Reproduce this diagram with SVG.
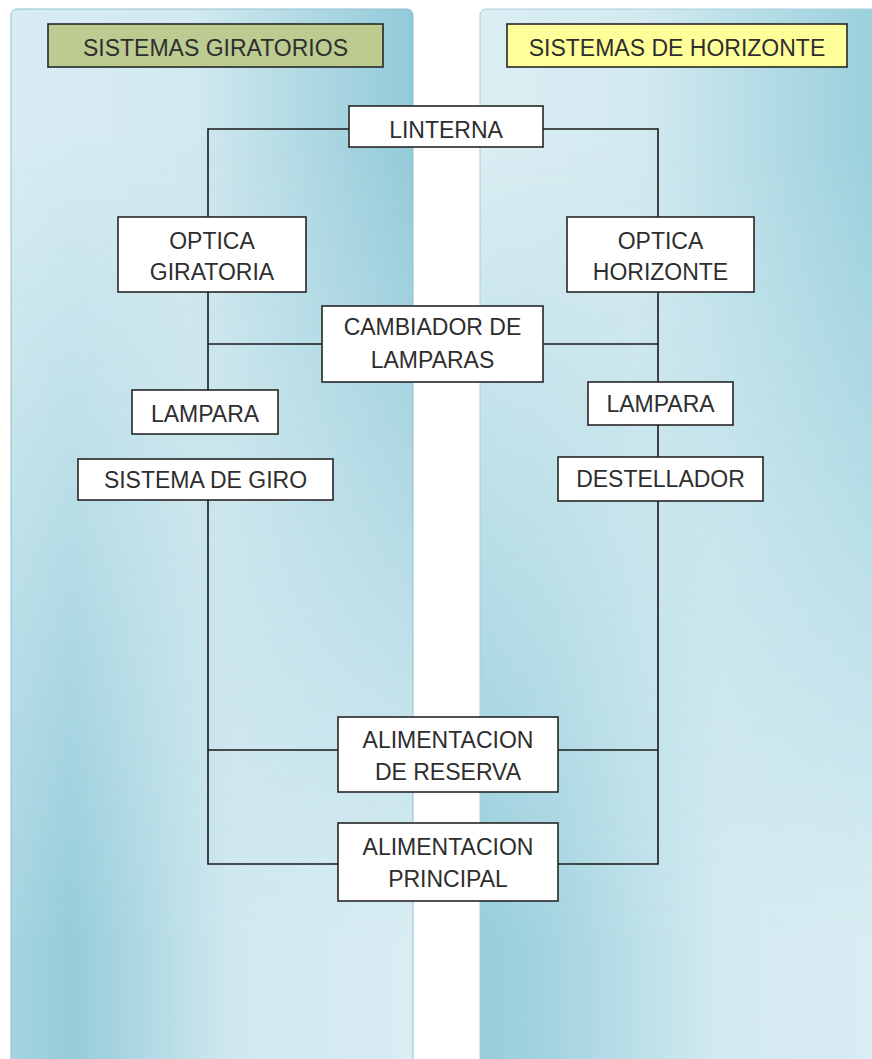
<svg xmlns="http://www.w3.org/2000/svg" width="872" height="1059" viewBox="0 0 872 1059">
<defs>
<style>
.box{fill:#ffffff;stroke:#262626;stroke-width:1.6}
.t{font-family:"Liberation Sans",Arial,sans-serif;font-size:23px;fill:#2e2e2e;text-anchor:middle}
.c{fill:none;stroke:#1a1a1a;stroke-width:1.6}
</style>
<linearGradient id="topL" x1="0" y1="0" x2="1" y2="0">
<stop offset="0" stop-color="#d8edf3"/><stop offset="0.45" stop-color="#d2e9ef"/><stop offset="1" stop-color="#92cad9"/>
</linearGradient>
<linearGradient id="botL" x1="0" y1="0" x2="1" y2="0">
<stop offset="0" stop-color="#a6d4e0"/><stop offset="0.15" stop-color="#95ccda"/><stop offset="0.55" stop-color="#d0e8ef"/><stop offset="1" stop-color="#d9edf3"/>
</linearGradient>
<linearGradient id="topR" x1="0" y1="0" x2="1" y2="0">
<stop offset="0" stop-color="#dbeef3"/><stop offset="0.4" stop-color="#d3eaf0"/><stop offset="1" stop-color="#98cfdc"/>
</linearGradient>
<linearGradient id="botR" x1="0" y1="0" x2="1" y2="0">
<stop offset="0" stop-color="#96cddb"/><stop offset="0.18" stop-color="#a4d4e0"/><stop offset="0.6" stop-color="#d3eaf0"/><stop offset="1" stop-color="#d9edf3"/>
</linearGradient>
<linearGradient id="vfade" x1="0" y1="0" x2="0" y2="1">
<stop offset="0.12" stop-color="#000"/><stop offset="0.88" stop-color="#fff"/>
</linearGradient>
<mask id="mL" maskUnits="userSpaceOnUse" x="0" y="0" width="872" height="1059">
<rect x="11" y="9" width="402" height="1060" fill="url(#vfade)"/>
</mask>
<mask id="mR" maskUnits="userSpaceOnUse" x="0" y="0" width="872" height="1059">
<rect x="480" y="9" width="400" height="1060" fill="url(#vfade)"/>
</mask>
</defs>
<rect x="0" y="0" width="872" height="1059" fill="#ffffff"/>
<g id="panel-left">
<rect x="11" y="9" width="402" height="1060" rx="6" fill="url(#topL)"/>
<rect x="11" y="9" width="402" height="1060" rx="6" fill="url(#botL)" mask="url(#mL)"/>
<rect x="11" y="9" width="402" height="1060" rx="6" fill="none" stroke="#8fbfcc" stroke-width="1"/>
</g>
<g id="panel-right">
<rect x="480" y="9" width="400" height="1060" rx="6" fill="url(#topR)"/>
<rect x="480" y="9" width="400" height="1060" rx="6" fill="url(#botR)" mask="url(#mR)"/>
<rect x="480" y="9" width="400" height="1060" rx="6" fill="none" stroke="#a9cfd9" stroke-width="1"/>
</g>
<g id="connectors">
<polyline class="c" points="349,129 208,129 208,217"/>
<polyline class="c" points="543,129 658,129 658,217"/>
<line class="c" x1="208" y1="292" x2="208" y2="390"/>
<line class="c" x1="208" y1="344" x2="322" y2="344"/>
<line class="c" x1="658" y1="292" x2="658" y2="382"/>
<line class="c" x1="543" y1="344" x2="658" y2="344"/>
<line class="c" x1="658" y1="425" x2="658" y2="457"/>
<polyline class="c" points="208,500 208,864 338,864"/>
<line class="c" x1="208" y1="750" x2="338" y2="750"/>
<polyline class="c" points="658,501 658,864 558,864"/>
<line class="c" x1="558" y1="750" x2="658" y2="750"/>
</g>
<g id="hdr-giratorios">
<rect x="48" y="24" width="335" height="43" fill="#bccb90" stroke="#262626" stroke-width="1.6"/>
<text class="t" x="215.5" y="56">SISTEMAS GIRATORIOS</text>
</g>
<g id="hdr-horizonte">
<rect x="507" y="24" width="340" height="43" fill="#ffff99" stroke="#262626" stroke-width="1.6"/>
<text class="t" x="677" y="56">SISTEMAS DE HORIZONTE</text>
</g>
<g id="linterna">
<rect class="box" x="349" y="106" width="194" height="41"/>
<text class="t" x="446" y="138">LINTERNA</text>
</g>
<g id="optica-giratoria">
<rect class="box" x="118" y="217" width="188" height="75"/>
<text class="t" x="212" y="249">OPTICA</text>
<text class="t" x="212" y="280">GIRATORIA</text>
</g>
<g id="optica-horizonte">
<rect class="box" x="567" y="217" width="187" height="75"/>
<text class="t" x="660.5" y="249">OPTICA</text>
<text class="t" x="660.5" y="280">HORIZONTE</text>
</g>
<g id="cambiador">
<rect class="box" x="322" y="306" width="221" height="76"/>
<text class="t" x="432.5" y="335">CAMBIADOR DE</text>
<text class="t" x="432.5" y="368">LAMPARAS</text>
</g>
<g id="lampara-left">
<rect class="box" x="132" y="390" width="146" height="44"/>
<text class="t" x="205" y="422">LAMPARA</text>
</g>
<g id="sistema-giro">
<rect class="box" x="78" y="459" width="255" height="41"/>
<text class="t" x="205.5" y="488">SISTEMA DE GIRO</text>
</g>
<g id="lampara-right">
<rect class="box" x="588" y="382" width="145" height="43"/>
<text class="t" x="660.5" y="412">LAMPARA</text>
</g>
<g id="destellador">
<rect class="box" x="558" y="457" width="205" height="44"/>
<text class="t" x="660.5" y="487">DESTELLADOR</text>
</g>
<g id="alim-reserva">
<rect class="box" x="338" y="717" width="220" height="75"/>
<text class="t" x="448" y="748">ALIMENTACION</text>
<text class="t" x="448" y="780">DE RESERVA</text>
</g>
<g id="alim-principal">
<rect class="box" x="338" y="823" width="220" height="78"/>
<text class="t" x="448" y="855">ALIMENTACION</text>
<text class="t" x="448" y="887">PRINCIPAL</text>
</g>
</svg>
